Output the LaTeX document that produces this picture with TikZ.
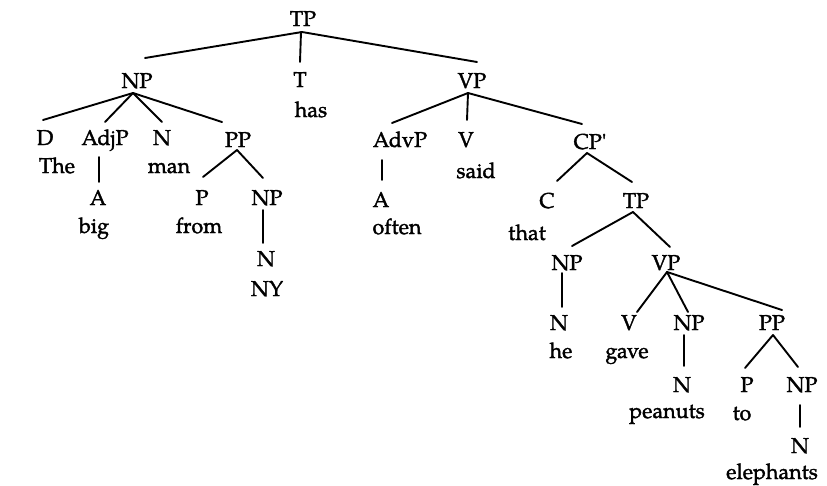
\documentclass[tikz,border=0pt]{standalone}
\usepackage{fontspec}
\setmainfont{TeX Gyre Pagella}[BoldFont={TeX Gyre Pagella},BoldFeatures={FakeBold=1.6}]
\usetikzlibrary{calc}
\begin{document}
\begin{tikzpicture}[x=1pt,y=-1pt,
  lab/.style={inner sep=0pt,anchor=base,font=\fontsize{21.5pt}{24pt}\selectfont\bfseries},
  br/.style={line width=1.9pt,line cap=round}]
\useasboundingbox (0,0) rectangle (827,485);
% category labels
\node[lab] (tp) at (303,26) {TP};
\node[lab] (np) at (137,88) {NP};
\node[lab] (t) at (300,87) {T};
\node[lab] (vp) at (472,88) {VP};
\node[lab] (d) at (45,145) {D};
\node[lab] (adjp) at (105,145) {AdjP};
\node[lab] (n) at (162,145) {N};
\node[lab] (pp) at (238,147) {PP};
\node[lab] (a) at (98,205) {A};
\node[lab] (p) at (202,205) {P};
\node[lab] (npb) at (267,205) {NP};
\node[lab] (nb) at (266,266) {N};
\node[lab] (advp) at (400,147) {AdvP};
\node[lab] (v) at (466,147) {V};
\node[lab] (cp) at (590,149) {CP\textquotesingle};
\node[lab] (aa) at (381,207) {A};
\node[lab] (c) at (547,208) {C};
\node[lab] (tpb) at (636,208) {TP};
\node[lab] (npc) at (567,270) {NP};
\node[lab] (vpb) at (666,270) {VP};
\node[lab] (nc) at (559,330) {N};
\node[lab] (vb) at (629,330) {V};
\node[lab] (npd) at (689,330) {NP};
\node[lab] (ppb) at (772,330) {PP};
\node[lab] (nd) at (682,392) {N};
\node[lab] (pb) at (747,392) {P};
\node[lab] (npe) at (802,392) {NP};
\node[lab] (ne) at (800,453) {N};
% words
\node[lab] (wthe) at (57,173) {The};
\node[lab] (wman) at (169,173) {man};
\node[lab] (whas) at (311,117) {has};
\node[lab] (wbig) at (94,233) {big};
\node[lab] (wfrom) at (199,233) {from};
\node[lab] (wny) at (267,296) {NY};
\node[lab] (woften) at (397,234) {often};
\node[lab] (wsaid) at (476,178) {said};
\node[lab] (wthat) at (527,240) {that};
\node[lab] (whe) at (561,358) {he};
\node[lab] (wgave) at (627,358) {gave};
\node[lab] (wpeanuts) at (667,418) {peanuts};
\node[lab] (wto) at (742,420) {to};
\node[lab] (weleph) at (772,479) {elephants};
% branches
\draw[br] ($(tp.base)+(-1,6)$) -- ($(np.base)+(8,-30)$);
\draw[br] ($(tp.base)+(-2,6)$) -- ($(t.base)+(0,-25)$);
\draw[br] ($(tp.base)+(-1,6)$) -- ($(vp.base)+(5,-26)$);
\draw[br] ($(np.base)+(-4,5)$) -- ($(d.base)+(-2,-25)$);
\draw[br] ($(np.base)+(-4,5)$) -- ($(adjp.base)+(0,-23)$);
\draw[br] ($(np.base)+(-4,5)$) -- ($(n.base)+(0,-23)$);
\draw[br] ($(np.base)+(-4,5)$) -- ($(pp.base)+(-16,-25)$);
\draw[br] ($(adjp.base)+(-6,12)$) -- ($(a.base)+(1,-23)$);
\draw[br] ($(pp.base)+(-1,3)$) -- ($(p.base)+(1,-28)$);
\draw[br] ($(pp.base)+(-1,3)$) -- ($(npb.base)+(-4,-27)$);
\draw[br] ($(npb.base)+(-4,5)$) -- ($(nb.base)+(-3,-23)$);
\draw[br] ($(vp.base)+(-4,5)$) -- ($(advp.base)+(-8,-24)$);
\draw[br] ($(vp.base)+(-4,5)$) -- ($(v.base)+(1,-27)$);
\draw[br] ($(vp.base)+(-4,5)$) -- ($(cp.base)+(-8,-25)$);
\draw[br] ($(advp.base)+(-18,13)$) -- ($(aa.base)+(1,-27)$);
\draw[br] ($(cp.base)+(-3,4)$) -- ($(c.base)+(10,-27)$);
\draw[br] ($(cp.base)+(-3,4)$) -- ($(tpb.base)+(-4,-26)$);
\draw[br] ($(tpb.base)+(-3,4)$) -- ($(npc.base)+(5,-24)$);
\draw[br] ($(tpb.base)+(-3,4)$) -- ($(vpb.base)+(4,-23)$);
\draw[br] ($(npc.base)+(-5,3)$) -- ($(nc.base)+(3,-23)$);
\draw[br] ($(vpb.base)+(1,2)$) -- ($(vb.base)+(8,-18)$);
\draw[br] ($(vpb.base)+(1,2)$) -- ($(npd.base)+(-1,-18)$);
\draw[br] ($(vpb.base)+(1,2)$) -- ($(ppb.base)+(10,-20)$);
\draw[br] ($(npd.base)+(-5,5)$) -- ($(nd.base)+(2,-26)$);
\draw[br] ($(ppb.base)+(1,5)$) -- ($(pb.base)+(-2,-24)$);
\draw[br] ($(ppb.base)+(1,5)$) -- ($(npe.base)+(-4,-25)$);
\draw[br] ($(npe.base)+(-2,13)$) -- ($(ne.base)+(0,-26)$);
\end{tikzpicture}
\end{document}
